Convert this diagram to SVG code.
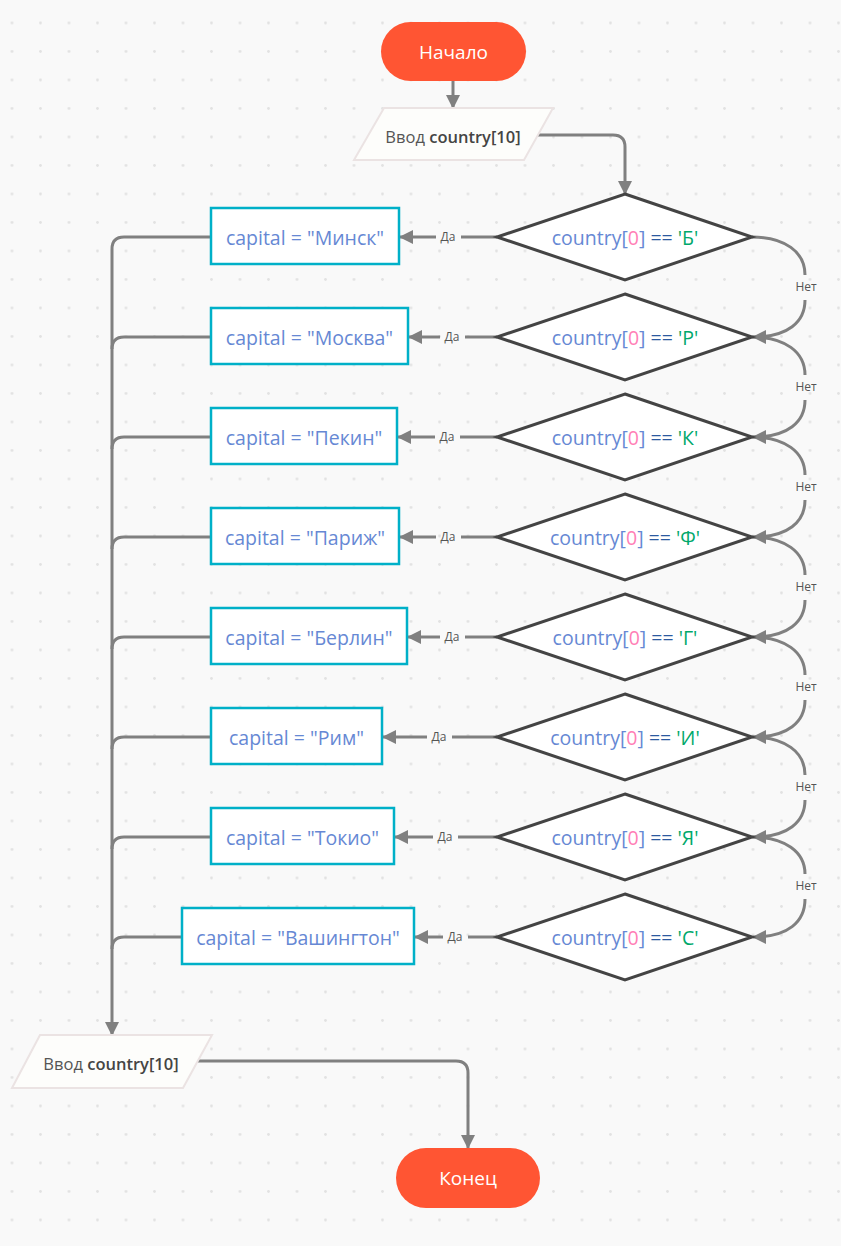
<svg xmlns="http://www.w3.org/2000/svg" width="841" height="1246" viewBox="0 0 841 1246">
<defs>
<pattern id="dots" patternUnits="userSpaceOnUse" x="-2.25" y="8.75" width="28.5" height="28.5"><circle cx="14.25" cy="14.25" r="1.4" fill="#e2e2e2"/></pattern>
<marker id="ah" viewBox="0 0 14 14" refX="13" refY="7" markerWidth="14" markerHeight="14" markerUnits="userSpaceOnUse" orient="auto"><path d="M0,0 L14,7 L0,14 z" fill="#808080"/></marker>
<style>
.bg{fill:#f9f9f9}
.term{fill:#ff5533}
.termt{font-family:"Open Sans",sans-serif;font-size:19px;fill:#ffffff;text-anchor:middle}
.io{fill:#fdfdfb;stroke:#ebe3e3;stroke-width:2}
.iot{font-family:"Open Sans",sans-serif;font-size:16.5px;fill:#555555;text-anchor:middle}
.iot .b{font-weight:600;fill:#444444}
.box{fill:#ffffff;stroke:#00b0c8;stroke-width:2.5}
.boxt{font-family:"Open Sans",sans-serif;font-size:19.5px;fill:#6688d4;text-anchor:middle}
.dia{fill:#ffffff;stroke:#444444;stroke-width:3;stroke-linejoin:miter}
.diat{font-family:"Open Sans",sans-serif;font-size:19.5px;fill:#6688d4;text-anchor:middle}
.diat .n{fill:#ff7eb6}
.diat .op{fill:#2c5aa0}
.diat .s{fill:#00a86b}
.c{fill:none;stroke:#808080;stroke-width:3}
.lbl{font-family:"Open Sans",sans-serif;font-size:12px;fill:#555555;text-anchor:middle}
</style>
</defs>
<rect class="bg" x="0" y="0" width="841" height="1246"/>
<rect fill="url(#dots)" x="0" y="0" width="841" height="1246"/>

<g id="connectors">
<path class="c" d="M453,81 L453,108" marker-end="url(#ah)"/>
<path class="c" d="M538,135 L613,135 Q625,135 625,147 L625,194" marker-end="url(#ah)"/>
<path class="c" d="M497,237 L461,237"/><path class="c" d="M436,237 L400,237" marker-end="url(#ah)"/>
<path class="c" d="M497,337 L465,337"/><path class="c" d="M440,337 L409,337" marker-end="url(#ah)"/>
<path class="c" d="M497,437 L460,437"/><path class="c" d="M435,437 L398,437" marker-end="url(#ah)"/>
<path class="c" d="M497,537 L461,537"/><path class="c" d="M436,537 L400,537" marker-end="url(#ah)"/>
<path class="c" d="M497,637 L465,637"/><path class="c" d="M440,637 L408,637" marker-end="url(#ah)"/>
<path class="c" d="M497,737 L452,737"/><path class="c" d="M427,737 L383,737" marker-end="url(#ah)"/>
<path class="c" d="M497,837 L458,837"/><path class="c" d="M433,837 L395,837" marker-end="url(#ah)"/>
<path class="c" d="M497,937 L468,937"/><path class="c" d="M443,937 L415,937" marker-end="url(#ah)"/>
<g id="net">
<path class="c" d="M752,237 C785,237 805,252 805,275"/><path class="c" d="M805,300 C805,322 788,337 753,337" marker-end="url(#ah)"/>
<path class="c" d="M752,337 C785,337 805,352 805,375"/><path class="c" d="M805,400 C805,422 788,437 753,437" marker-end="url(#ah)"/>
<path class="c" d="M752,437 C785,437 805,452 805,475"/><path class="c" d="M805,500 C805,522 788,537 753,537" marker-end="url(#ah)"/>
<path class="c" d="M752,537 C785,537 805,552 805,575"/><path class="c" d="M805,600 C805,622 788,637 753,637" marker-end="url(#ah)"/>
<path class="c" d="M752,637 C785,637 805,652 805,675"/><path class="c" d="M805,700 C805,722 788,737 753,737" marker-end="url(#ah)"/>
<path class="c" d="M752,737 C785,737 805,752 805,775"/><path class="c" d="M805,800 C805,822 788,837 753,837" marker-end="url(#ah)"/>
<path class="c" d="M752,837 C785,837 805,852 805,874"/><path class="c" d="M805,899 C805,922 788,937 753,937" marker-end="url(#ah)"/>
</g>
<path class="c" d="M211,237 L124,237 Q112,237 112,249 L112,1035" marker-end="url(#ah)"/>
<path class="c" d="M211,337 L124,337 Q112,337 112,349"/>
<path class="c" d="M211,437 L124,437 Q112,437 112,449"/>
<path class="c" d="M211,537 L124,537 Q112,537 112,549"/>
<path class="c" d="M211,637 L124,637 Q112,637 112,649"/>
<path class="c" d="M211,737 L124,737 Q112,737 112,749"/>
<path class="c" d="M211,837 L124,837 Q112,837 112,849"/>
<path class="c" d="M182,937 L124,937 Q112,937 112,949"/>
<path class="c" d="M196,1061 L456,1061 Q468,1061 468,1073 L468,1148" marker-end="url(#ah)"/>
<text class="lbl" x="448" y="241">Да</text>
<text class="lbl" x="452" y="341">Да</text>
<text class="lbl" x="447" y="441">Да</text>
<text class="lbl" x="448" y="541">Да</text>
<text class="lbl" x="452" y="641">Да</text>
<text class="lbl" x="439" y="741">Да</text>
<text class="lbl" x="445" y="841">Да</text>
<text class="lbl" x="455" y="941">Да</text>
<text class="lbl" x="806" y="291">Нет</text>
<text class="lbl" x="806" y="391">Нет</text>
<text class="lbl" x="806" y="491">Нет</text>
<text class="lbl" x="806" y="591">Нет</text>
<text class="lbl" x="806" y="691">Нет</text>
<text class="lbl" x="806" y="791">Нет</text>
<text class="lbl" x="806" y="890">Нет</text>
</g>

<g id="start"><rect class="term" x="381" y="22" width="145" height="59" rx="29.5"/><text class="termt" x="453.5" y="58.5">Начало</text></g>
<g id="input1"><polygon class="io" points="384,108 553,108 524,160 354,160"/><text class="iot" x="453" y="142.5">Ввод <tspan class="b">country[10]</tspan></text></g>

<g id="d1"><polygon class="dia" points="625,194 752,237 625,280 497,237"/><text class="diat" x="625" y="244.5">country[<tspan class="n">0</tspan>] <tspan class="op">==</tspan> <tspan class="s">'Б'</tspan></text></g>
<g id="d2"><polygon class="dia" points="625,294 752,337 625,380 497,337"/><text class="diat" x="625" y="344.5">country[<tspan class="n">0</tspan>] <tspan class="op">==</tspan> <tspan class="s">'Р'</tspan></text></g>
<g id="d3"><polygon class="dia" points="625,394 752,437 625,480 497,437"/><text class="diat" x="625" y="444.5">country[<tspan class="n">0</tspan>] <tspan class="op">==</tspan> <tspan class="s">'К'</tspan></text></g>
<g id="d4"><polygon class="dia" points="625,494 752,537 625,580 497,537"/><text class="diat" x="625" y="544.5">country[<tspan class="n">0</tspan>] <tspan class="op">==</tspan> <tspan class="s">'Ф'</tspan></text></g>
<g id="d5"><polygon class="dia" points="625,594 752,637 625,680 497,637"/><text class="diat" x="625" y="644.5">country[<tspan class="n">0</tspan>] <tspan class="op">==</tspan> <tspan class="s">'Г'</tspan></text></g>
<g id="d6"><polygon class="dia" points="625,694 752,737 625,780 497,737"/><text class="diat" x="625" y="744.5">country[<tspan class="n">0</tspan>] <tspan class="op">==</tspan> <tspan class="s">'И'</tspan></text></g>
<g id="d7"><polygon class="dia" points="625,794 752,837 625,880 497,837"/><text class="diat" x="625" y="844.5">country[<tspan class="n">0</tspan>] <tspan class="op">==</tspan> <tspan class="s">'Я'</tspan></text></g>
<g id="d8"><polygon class="dia" points="625,894 752,937 625,980 497,937"/><text class="diat" x="625" y="944.5">country[<tspan class="n">0</tspan>] <tspan class="op">==</tspan> <tspan class="s">'С'</tspan></text></g>

<g id="b1"><rect class="box" x="211" y="208" width="188" height="56"/><text class="boxt" x="305" y="244.5">capital = "Минск"</text></g>
<g id="b2"><rect class="box" x="211" y="308" width="197" height="56"/><text class="boxt" x="309.5" y="344.5">capital = "Москва"</text></g>
<g id="b3"><rect class="box" x="211" y="408" width="186" height="56"/><text class="boxt" x="304" y="444.5">capital = "Пекин"</text></g>
<g id="b4"><rect class="box" x="211" y="508" width="188" height="56"/><text class="boxt" x="305" y="544.5">capital = "Париж"</text></g>
<g id="b5"><rect class="box" x="211" y="608" width="196" height="56"/><text class="boxt" x="309" y="644.5">capital = "Берлин"</text></g>
<g id="b6"><rect class="box" x="211" y="708" width="171" height="56"/><text class="boxt" x="296.5" y="744.5">capital = "Рим"</text></g>
<g id="b7"><rect class="box" x="211" y="808" width="183" height="56"/><text class="boxt" x="302.5" y="844.5">capital = "Токио"</text></g>
<g id="b8"><rect class="box" x="182" y="908" width="232" height="56"/><text class="boxt" x="298" y="944.5">capital = "Вашингтон"</text></g>

<g id="input2"><polygon class="io" points="40,1035 212,1035 183,1088 12,1088"/><text class="iot" x="111" y="1069.5">Ввод <tspan class="b">country[10]</tspan></text></g>
<g id="end"><rect class="term" x="396" y="1148" width="144" height="60" rx="30"/><text class="termt" x="468" y="1185">Конец</text></g>
</svg>
